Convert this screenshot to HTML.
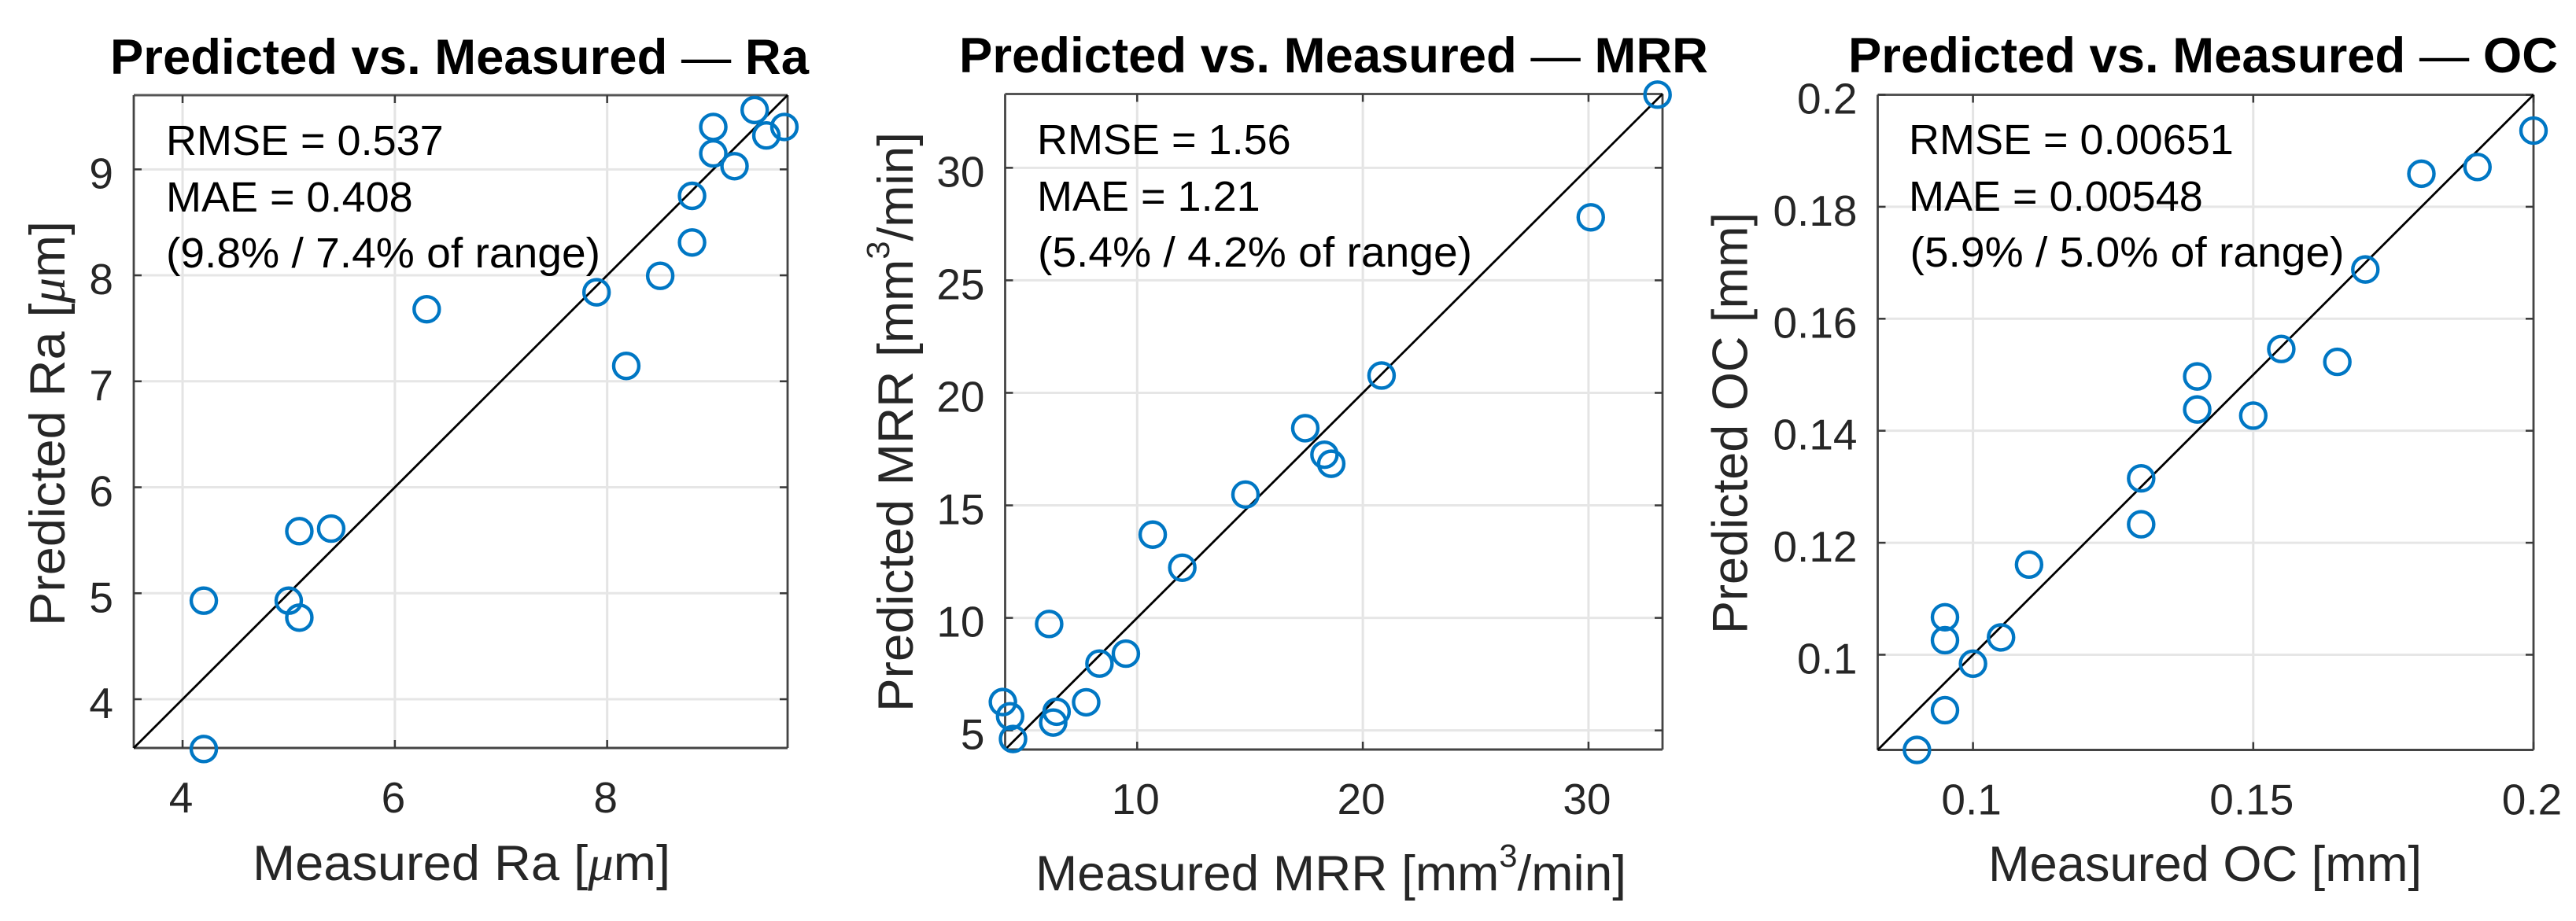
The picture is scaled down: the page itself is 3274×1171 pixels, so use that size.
<!DOCTYPE html>
<html lang="en">
<head>
<meta charset="utf-8">
<title>Predicted vs. Measured</title>
<style>
html,body{margin:0;padding:0;background:#fff;}
svg{display:block;font-family:"Liberation Sans",Arial,sans-serif;}
</style>
</head>
<body>
<svg id="chart" xmlns="http://www.w3.org/2000/svg" width="3274" height="1171" viewBox="0 0 3274 1171">
<rect x="0" y="0" width="3274" height="1171" fill="#ffffff"/>
<g id="marks-layer"></g>

<g>
<text x="140" y="94" font-size="63" font-weight="bold" fill="#000" textLength="888" lengthAdjust="spacingAndGlyphs">Predicted vs. Measured <tspan font-weight="normal">—</tspan> Ra</text>
<text x="321" y="1119" font-size="63" fill="#262626" textLength="531" lengthAdjust="spacingAndGlyphs">Measured Ra [<tspan font-family="'Liberation Serif',serif" font-style="italic">μ</tspan>m]</text>
<text transform="translate(82,796) rotate(-90)" x="0" y="0" font-size="63" fill="#262626" textLength="515" lengthAdjust="spacingAndGlyphs">Predicted Ra [<tspan font-family="'Liberation Serif',serif" font-style="italic">μ</tspan>m]</text>
<text x="211" y="197" font-size="54" fill="#000">RMSE = 0.537</text>
<text x="211" y="269" font-size="54" fill="#000">MAE = 0.408</text>
<text x="211" y="340" font-size="54" fill="#000" textLength="552" lengthAdjust="spacingAndGlyphs">(9.8% / 7.4% of range)</text>
</g>

<g>
<text x="1219" y="92" font-size="63" font-weight="bold" fill="#000" textLength="952" lengthAdjust="spacingAndGlyphs">Predicted vs. Measured <tspan font-weight="normal">—</tspan> MRR</text>
<text x="1316" y="1132" font-size="63" fill="#262626" textLength="751" lengthAdjust="spacingAndGlyphs">Measured MRR [mm<tspan font-size="41" dy="-30">3</tspan><tspan dy="30">/min]</tspan></text>
<text transform="translate(1160,905) rotate(-90)" x="0" y="0" font-size="63" fill="#262626" textLength="737" lengthAdjust="spacingAndGlyphs">Predicted MRR [mm<tspan font-size="41" dy="-30">3</tspan><tspan dy="30">/min]</tspan></text>
<text x="1318" y="196" font-size="54" fill="#000">RMSE = 1.56</text>
<text x="1318" y="268" font-size="54" fill="#000">MAE = 1.21</text>
<text x="1319" y="339" font-size="54" fill="#000" textLength="552" lengthAdjust="spacingAndGlyphs">(5.4% / 4.2% of range)</text>
</g>

<g>
<text x="2349" y="92" font-size="63" font-weight="bold" fill="#000" textLength="902" lengthAdjust="spacingAndGlyphs">Predicted vs. Measured <tspan font-weight="normal">—</tspan> OC</text>
<text x="2527" y="1120" font-size="63" fill="#262626" textLength="551" lengthAdjust="spacingAndGlyphs">Measured OC [mm]</text>
<text transform="translate(2220.5,806) rotate(-90)" x="0" y="0" font-size="63" fill="#262626" textLength="536" lengthAdjust="spacingAndGlyphs">Predicted OC [mm]</text>
<text x="2426" y="196" font-size="54" fill="#000">RMSE = 0.00651</text>
<text x="2426" y="268" font-size="54" fill="#000">MAE = 0.00548</text>
<text x="2427.5" y="339" font-size="54" fill="#000" textLength="552" lengthAdjust="spacingAndGlyphs">(5.9% / 5.0% of range)</text>
</g>
</svg>

<script>
// ---- Ra data ----
const raMeasured  = [9.39, 9.67, 9.0, 9.5, 9.0, 9.2, 8.8, 8.8, 8.5, 7.9, 6.3, 8.18, 5.4, 5.1, 4.2, 5.0, 5.1, 4.2];
const raPredicted = [9.56, 9.40, 9.40, 9.32, 9.15, 9.03, 8.75, 8.31, 7.995, 7.84, 7.68, 7.145, 5.61, 5.586, 4.93, 4.93, 4.77, 3.53];
const raLimits = [3.54, 9.70];
const raXTicks = [4, 6, 8];
const raYTicks = [4, 5, 6, 7, 8, 9];

// ---- MRR data ----
const mrrMeasured  = [33.06, 30.1, 20.83, 17.45, 18.3, 18.6, 14.8, 10.69, 12.0, 6.1, 9.5, 8.33, 7.74, 4.05, 4.37, 6.43, 6.28, 4.5];
const mrrPredicted = [33.25, 27.8, 20.77, 18.43, 17.25, 16.85, 15.48, 13.7, 12.23, 9.73, 8.41, 7.97, 6.25, 6.26, 5.63, 5.83, 5.35, 4.62];
const mrrLimits = [4.15, 33.28];
const mrrXTicks = [10, 20, 30];
const mrrYTicks = [5, 10, 15, 20, 25, 30];

// ---- OC data ----
const ocMeasured  = [0.2, 0.19, 0.18, 0.17, 0.155, 0.165, 0.14, 0.14, 0.15, 0.13, 0.13, 0.11, 0.095, 0.095, 0.105, 0.1, 0.095, 0.09];
const ocPredicted = [0.1936, 0.1871, 0.1859, 0.1688, 0.1546, 0.1523, 0.1497, 0.1438, 0.1427, 0.1315, 0.1233, 0.1161, 0.1067, 0.1026, 0.1031, 0.0984, 0.0901, 0.083];
const ocLimits = [0.083, 0.2];
const ocXTicks = [0.1, 0.15, 0.2];
const ocYTicks = [0.1, 0.12, 0.14, 0.16, 0.18, 0.2];

const NS = 'http://www.w3.org/2000/svg';
const layer = document.getElementById('marks-layer');

function makeLine(parent, x1, y1, x2, y2, color, width) {
  const el = document.createElementNS(NS, 'line');
  el.setAttribute('x1', x1);
  el.setAttribute('y1', y1);
  el.setAttribute('x2', x2);
  el.setAttribute('y2', y2);
  el.setAttribute('stroke', color);
  el.setAttribute('stroke-width', width);
  parent.appendChild(el);
  return el;
}

function makeLabel(parent, x, y, anchor, content) {
  const el = document.createElementNS(NS, 'text');
  el.setAttribute('x', x);
  el.setAttribute('y', y);
  el.setAttribute('text-anchor', anchor);
  el.setAttribute('font-size', '55');
  el.setAttribute('fill', '#262626');
  el.textContent = content;
  parent.appendChild(el);
  return el;
}

function drawPanel(key, box, limits, xTicks, yTicks, measured, predicted) {
  const xScale = v => box.left + (v - limits[0]) / (limits[1] - limits[0]) * (box.right - box.left);
  const yScale = v => box.bottom - (v - limits[0]) / (limits[1] - limits[0]) * (box.bottom - box.top);

  const g = document.createElementNS(NS, 'g');
  
  
  layer.appendChild(g);

  xTicks.forEach(t => {
    const grid = makeLine(g, xScale(t), box.top, xScale(t), box.bottom, '#e4e4e4', 3);
    
    
  });
  yTicks.forEach(t => {
    const grid = makeLine(g, box.left, yScale(t), box.right, yScale(t), '#e6e6e6', 3);
    
    
  });

  const frame = document.createElementNS(NS, 'g');
  
  
  g.appendChild(frame);
  makeLine(frame, box.left, box.bottom, box.right, box.bottom, '#444444', 3);
  makeLine(frame, box.left, box.top, box.right, box.top, '#555555', 3);
  makeLine(frame, box.left, box.top, box.left, box.bottom, '#444444', 2.8);
  makeLine(frame, box.right, box.top, box.right, box.bottom, '#444444', 2.8);

  xTicks.forEach(t => {
    const px = xScale(t);
    const tickBottom = makeLine(g, px, box.bottom, px, box.bottom - 10, '#3a3a3a', 2.5);
    
    
    const tickTop = makeLine(g, px, box.top, px, box.top + 10, '#3a3a3a', 2.5);
    
    
    const label = makeLabel(g, px - 2, box.bottom + 82, 'middle', String(t));
    
    
  });
  yTicks.forEach(t => {
    const py = yScale(t);
    const tickLeft = makeLine(g, box.left, py, box.left + 10, py, '#3a3a3a', 2.5);
    
    
    const tickRight = makeLine(g, box.right, py, box.right - 10, py, '#3a3a3a', 2.5);
    
    
    const label = makeLabel(g, box.left - 26, py + 24, 'end', String(t));
    
    
  });

  const identity = makeLine(g, xScale(limits[0]), yScale(limits[0]), xScale(limits[1]), yScale(limits[1]), '#000000', 2.8);
  
  

  measured.forEach((m, i) => {
    const c = document.createElementNS(NS, 'circle');
    c.setAttribute('cx', xScale(m));
    c.setAttribute('cy', yScale(predicted[i]));
    c.setAttribute('r', 16);
    c.setAttribute('fill', 'none');
    c.setAttribute('stroke', '#0077C4');
    c.setAttribute('stroke-width', 4.4);
    
    
    g.appendChild(c);
  });
}

drawPanel('ra',  {left: 170,    right: 1001, top: 121,   bottom: 951},   raLimits,  raXTicks,  raYTicks,  raMeasured,  raPredicted);
drawPanel('mrr', {left: 1277.5, right: 2113, top: 119.5, bottom: 953},   mrrLimits, mrrXTicks, mrrYTicks, mrrMeasured, mrrPredicted);
drawPanel('oc',  {left: 2386.5, right: 3220, top: 120.5, bottom: 953.5}, ocLimits,  ocXTicks,  ocYTicks,  ocMeasured,  ocPredicted);
</script>
</body>
</html>
